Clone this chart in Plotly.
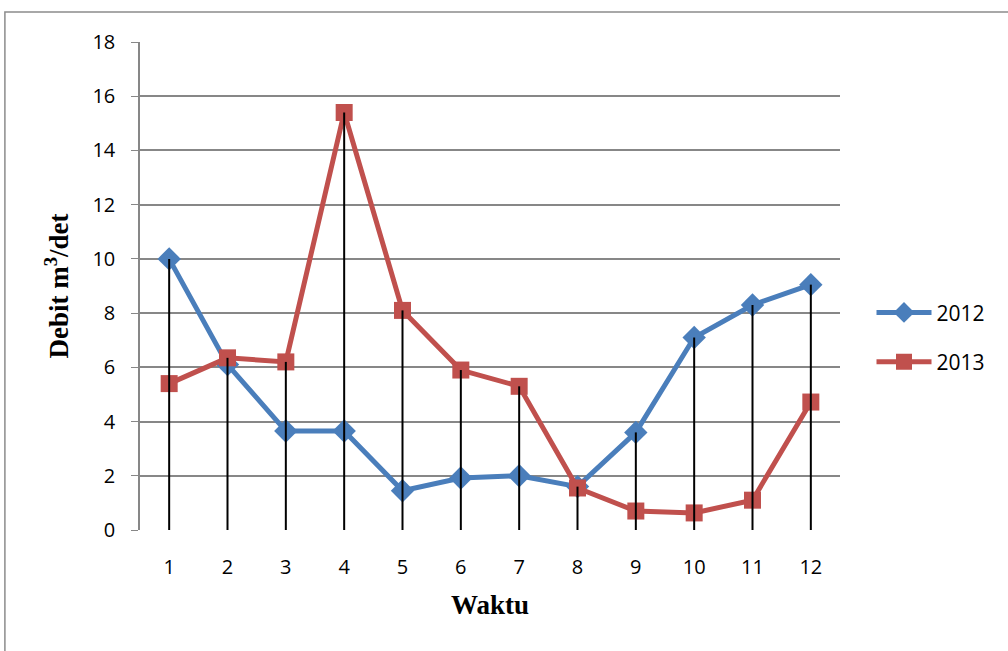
import plotly.graph_objects as go

months = [1, 2, 3, 4, 5, 6, 7, 8, 9, 10, 11, 12]
month_labels = ["1", "2", "3", "4", "5", "6", "7", "8", "9", "10", "11", "12"]
debit_2012 = [10.0, 6.1, 3.65, 3.65, 1.45, 1.92, 2.0, 1.6, 3.6, 7.1, 8.3, 9.05]
debit_2013 = [5.4, 6.35, 6.2, 15.4, 8.1, 5.9, 5.3, 1.55, 0.7, 0.63, 1.1, 4.72]
y_ticks = [0, 2, 4, 6, 8, 10, 12, 14, 16, 18]

fig = go.Figure()
fig.add_trace(go.Scatter(
    x=month_labels, y=debit_2012, name="2012", mode="lines+markers", legendgroup="a",
    line=dict(color="#4A7EBB", width=5),
    marker=dict(symbol="diamond", size=18, color="#4A7EBB"),
))
fig.add_trace(go.Scatter(
    x=month_labels, y=debit_2013, name="2013", mode="lines+markers", legendgroup="b",
    line=dict(color="#C0504D", width=5),
    marker=dict(symbol="square", size=17, color="#C0504D"),
))

# drop lines from the highest point to the axis
dx, dy = [], []
for lab, a, b in zip(month_labels, debit_2012, debit_2013):
    dx += [lab, lab, None]
    dy += [max(a, b), 0, None]
fig.add_trace(go.Scatter(
    x=dx, y=dy, mode="lines", line=dict(color="black", width=2),
    showlegend=False, hoverinfo="skip",
))

tick_font = dict(family="Open Sans, Noto Sans, sans-serif", size=20, color="black")

fig.update_layout(
    width=1008, height=651,
    margin=dict(l=140, r=168, t=42, b=121, autoexpand=False),
    paper_bgcolor="white", plot_bgcolor="white",
    font=dict(family="Open Sans, Noto Sans, sans-serif", size=20, color="black"),
    legend=dict(x=1.045, y=0.395, xanchor="left", yanchor="middle",
                traceorder="grouped",
                font=dict(family="Open Sans, Noto Sans, sans-serif", size=21, color="black"),
                tracegroupgap=19, itemwidth=55, itemsizing="trace"),
    shapes=[dict(type="rect", xref="paper", yref="paper",
                 x0=-0.193, y0=-0.4, x1=1.4, y1=1.0615,
                 line=dict(color="#8C8C8C", width=1.5), fillcolor="rgba(0,0,0,0)",
                 layer="below")],
)
fig.update_xaxes(
    type="category", range=[-0.5, 11.5], showgrid=False, automargin=False,
    showline=False, ticks="", ticklabelstandoff=23, tickfont=tick_font,
    title=dict(text="<b>Waktu</b>", font=dict(family="Liberation Serif", size=27, color="black"),
               standoff=16),
)
fig.update_yaxes(
    range=[0, 18], tickvals=y_ticks, showgrid=True, gridcolor="#878787", gridwidth=1.5,
    automargin=False, tickfont=tick_font,
    showline=True, linecolor="#878787", linewidth=1.5, ticks="outside", ticklen=7,
    tickcolor="#878787", ticklabelstandoff=12, zeroline=False,
    title=dict(text="<b>Debit m<sup>3</sup>/det</b>",
               font=dict(family="Liberation Serif", size=27, color="black"), standoff=16),
)
fig.write_html("out.html", config={"displayModeBar": False},
               post_script="document.body.style.margin='0px';")
